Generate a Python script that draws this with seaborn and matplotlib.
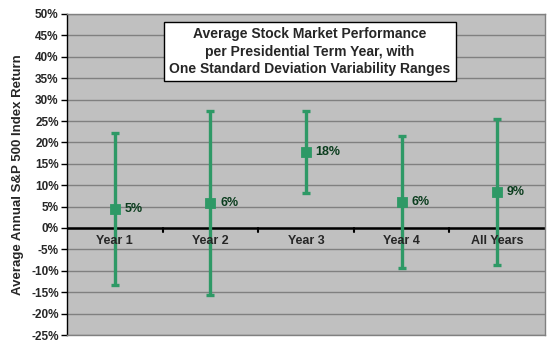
import matplotlib
matplotlib.use("Agg")
import matplotlib.pyplot as plt
import seaborn as sns
import pandas as pd
import numpy as np

categories = ["Year 1", "Year 2", "Year 3", "Year 4", "All Years"]
means = [4.5, 5.8, 17.7, 6.0, 8.4]
upper = [22.1, 27.3, 27.3, 21.5, 25.4]
lower = [-13.3, -15.6, 8.1, -9.4, -8.6]
labels = ["5%", "6%", "18%", "6%", "9%"]

df = pd.DataFrame({"cat": categories, "mean": means, "hi": upper, "lo": lower})
df["x"] = np.arange(len(categories))

sns.set_style("white")
plt.rcParams['font.family'] = ['Liberation Sans', 'DejaVu Sans']

green = "#2E9966"
fig = plt.figure(figsize=(5.5, 3.5), dpi=100)
ax = fig.add_axes([67/550, 1-335/350, (545-67)/550, (335-14)/350])
ax.set_facecolor("#C0C0C0")

ax.set_xlim(-0.5, 4.5)
ax.set_ylim(-25, 50)
yt = np.arange(-25, 51, 5)
ax.set_yticks(yt)
ax.set_yticklabels([f"{v}%" for v in yt], fontsize=8.5, fontweight="bold")
ax.yaxis.grid(True, color="#808080", linewidth=1)
ax.set_axisbelow(True)

ax.errorbar(df["x"], df["mean"],
            yerr=[df["mean"] - df["lo"], df["hi"] - df["mean"]],
            fmt="none", ecolor=green, elinewidth=2.4, capsize=3.2, capthick=2.4, zorder=3)
sns.scatterplot(data=df, x="x", y="mean", marker="s", s=55, color=green,
                edgecolor=green, ax=ax, zorder=4, legend=False)
for xi, m, lab in zip(df["x"], df["mean"], labels):
    ax.annotate(lab, (xi, m), xytext=(7, 0), textcoords="offset points",
                ha="left", va="center", fontsize=9, fontweight="bold", color="#0B3D1E")

ax.axhline(0, color="black", linewidth=1.8, zorder=2)
for b in np.arange(0.5, 4.5, 1):
    ax.plot([b, b], [0, -0.9], color="black", linewidth=1.5, zorder=2, clip_on=False)
ax.set_xticks([])
for xi, c in zip(df["x"], categories):
    ax.text(xi, -1.6, c, ha="center", va="top", fontsize=9, fontweight="bold")

ax.set_xlabel("")
ax.set_ylabel("Average Annual S&P 500 Index Return", fontsize=9.5, fontweight="bold", labelpad=5)
ax.tick_params(axis="y", which="both", left=True, length=4, width=1, color="black", pad=2)
for s in ["top", "right", "bottom"]:
    ax.spines[s].set_color("#808080")
    ax.spines[s].set_linewidth(1)
ax.spines["left"].set_color("black")
ax.spines["left"].set_linewidth(1)

ax.text(0.508, 0.883,
        "Average Stock Market Performance\nper Presidential Term Year, with\nOne Standard Deviation Variability Ranges",
        transform=ax.transAxes, ha="center", va="center", fontsize=10, fontweight="bold",
        linespacing=1.3,
        bbox=dict(boxstyle="square,pad=0.4", facecolor="white", edgecolor="black", linewidth=1))

fig.savefig("out.png", dpi=100, facecolor="white")
